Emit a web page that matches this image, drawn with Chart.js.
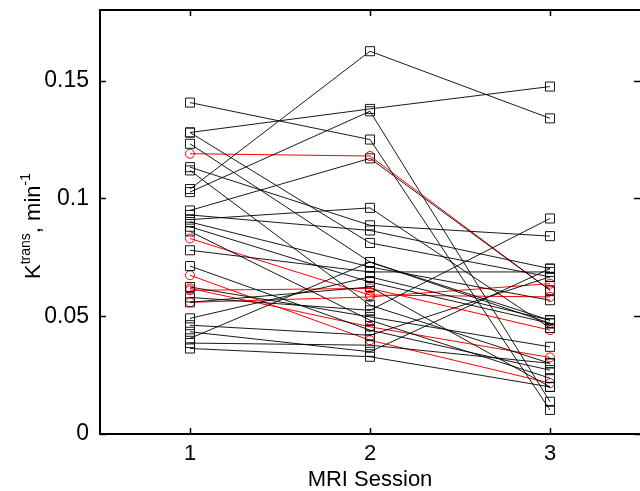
<!DOCTYPE html>
<html>
<head>
<meta charset="utf-8">
<script src="https://cdn.jsdelivr.net/npm/chart.js@4"></script>
<style>
  html, body { margin: 0; padding: 0; background: #fff; }
  #wrap { width: 640px; height: 491px; }
</style>
</head>
<body>
<div id="wrap"><canvas id="myChart" width="640" height="491"></canvas></div>
<script>
// MRI sessions on the x axis
const sessions = [1, 2, 3];
const yTicks = [0, 0.05, 0.1, 0.15];
const xTicks = [1, 2, 3];

// black subjects (square markers), value at session 1, 2, 3
const blackS1 = [0.1407, 0.128, 0.128, 0.1232, 0.1133, 0.1119, 0.104, 0.1027, 0.0949, 0.093, 0.091, 0.090, 0.088,
  0.086, 0.078, 0.0713, 0.0624, 0.058, 0.0559, 0.0491, 0.0462, 0.0434, 0.0406, 0.0386, 0.0363];
const blackS2 = [0.125, 0.138, 0.0811, 0.0730, 0.0886, 0.0547, 0.1625, 0.137, 0.117, 0.0864, 0.096, 0.0709, 0.0645,
  0.0483, 0.0688, 0.0441, 0.0497, 0.0525, 0.0624, 0.0667, 0.0419, 0.0349, 0.0730, 0.0377, 0.0328];
const blackS3 = [0.0102, 0.1475, 0.0667, 0.0483, 0.084, 0.030, 0.134, 0.0137, 0.061, 0.0702, 0.045, 0.0568, 0.047,
  0.0237, 0.0688, 0.0271, 0.037, 0.0915, 0.020, 0.0483, 0.0667, 0.0702, 0.047, 0.030, 0.020];

// red subjects (circle markers)
const redS1 = [0.119, 0.083, 0.0674, 0.0618, 0.0559, 0.061];
const redS2 = [0.118, 0.059, 0.0398, 0.0455, 0.0582, 0.0618];
const redS3 = [0.061, 0.0582, 0.0216, 0.0325, 0.0638, 0.0441];

const FONT = "'Liberation Sans', Arial, sans-serif";

function makeSet(a, b, c, color, style, r) {
  return {
    data: [a, b, c].map((v, i) => ({ x: sessions[i], y: v })),
    borderColor: color,
    borderWidth: 1,
    pointStyle: style,
    pointRadius: r,
    pointBorderColor: color,
    pointBorderWidth: 1,
    pointBackgroundColor: "rgba(0,0,0,0)",
    fill: false,
    tension: 0,
    clip: false,
  };
}

let sets = [];
for (let i = 0; i < blackS1.length; i++) {
  sets.push(makeSet(blackS1[i], blackS2[i], blackS3[i], "rgba(0,0,0,0.9)", "rect", 6.4));
}
for (let i = 0; i < redS1.length; i++) {
  sets.push(makeSet(redS1[i], redS2[i], redS3[i], "#ff0000", "circle", 4.5));
}

function noPad(scale) {
  scale.paddingTop = 0;
  scale.paddingBottom = 0;
  scale.paddingLeft = 0;
  scale.paddingRight = 0;
}

// box and inward ticks, matlab style
const framePlugin = {
  id: "frame",
  afterDraw(chart) {
    const ctx = chart.ctx;
    const a = chart.chartArea;
    const xs = chart.scales.x, ys = chart.scales.y;
    ctx.save();
    ctx.strokeStyle = "#000";
    ctx.lineWidth = 2;
    ctx.strokeRect(a.left, a.top, a.right - a.left + 1, a.bottom - a.top);
    ctx.lineWidth = 1.5;
    ctx.beginPath();
    xTicks.forEach((t) => {
      const px = Math.round(xs.getPixelForValue(t)) + 0.5;
      ctx.moveTo(px, a.bottom); ctx.lineTo(px, a.bottom - 6);
      ctx.moveTo(px, a.top); ctx.lineTo(px, a.top + 6);
    });
    yTicks.forEach((t) => {
      const py = Math.round(ys.getPixelForValue(t)) + 0.5;
      ctx.moveTo(a.left, py); ctx.lineTo(a.left + 6, py);
      ctx.moveTo(a.right, py); ctx.lineTo(a.right - 6, py);
    });
    ctx.stroke();

    // y title with superscripts
    const big = "22px " + FONT;
    const small = "14px " + FONT;
    const parts = [["K", big, 0], ["trans", small, -10], [",", big, 0], [" min", big, 0], ["-1", small, -10]];
    let total = 0;
    parts.forEach((p) => { ctx.font = p[1]; total += ctx.measureText(p[0]).width; });
    ctx.translate(40, (a.top + a.bottom) / 2 + 4);
    ctx.rotate(-Math.PI / 2);
    ctx.fillStyle = "#000";
    ctx.textBaseline = "alphabetic";
    let x = -total / 2;
    parts.forEach((p) => {
      ctx.font = p[1];
      ctx.fillText(p[0], x, p[2]);
      x += ctx.measureText(p[0]).width;
    });
    ctx.restore();
  },
};

const ctx = document.getElementById("myChart").getContext("2d");
const myChart = new Chart(ctx, {
  type: "line",
  data: { datasets: sets },
  options: {
    responsive: false,
    animation: false,
    layout: { autoPadding: false, padding: { top: 10, right: 0, left: 0, bottom: 0 } },
    plugins: { legend: { display: false }, tooltip: { enabled: false } },
    scales: {
      x: {
        type: "linear",
        min: 0.5,
        max: 3.5,
        afterBuildTicks(scale) { scale.ticks = xTicks.map((v) => ({ value: v })); },
        afterFit(scale) { scale.height = 57; noPad(scale); },
        grid: { display: false, drawTicks: false },
        border: { display: false },
        ticks: { color: "#000", padding: 7, font: { size: 22, family: FONT } },
        title: { display: true, text: "MRI Session", color: "#000", padding: { top: 0, bottom: -2 },
          font: { size: 22, family: FONT } },
      },
      y: {
        min: 0,
        max: 0.18,
        afterBuildTicks(scale) { scale.ticks = yTicks.map((v) => ({ value: v })); },
        afterFit(scale) { scale.width = 100; noPad(scale); },
        grid: { display: false, drawTicks: false },
        border: { display: false },
        ticks: { color: "#000", padding: 11, callback: (v) => String(v),
          font: { size: 23, family: FONT } },
      },
    },
  },
  plugins: [framePlugin],
});
</script>
</body>
</html>
